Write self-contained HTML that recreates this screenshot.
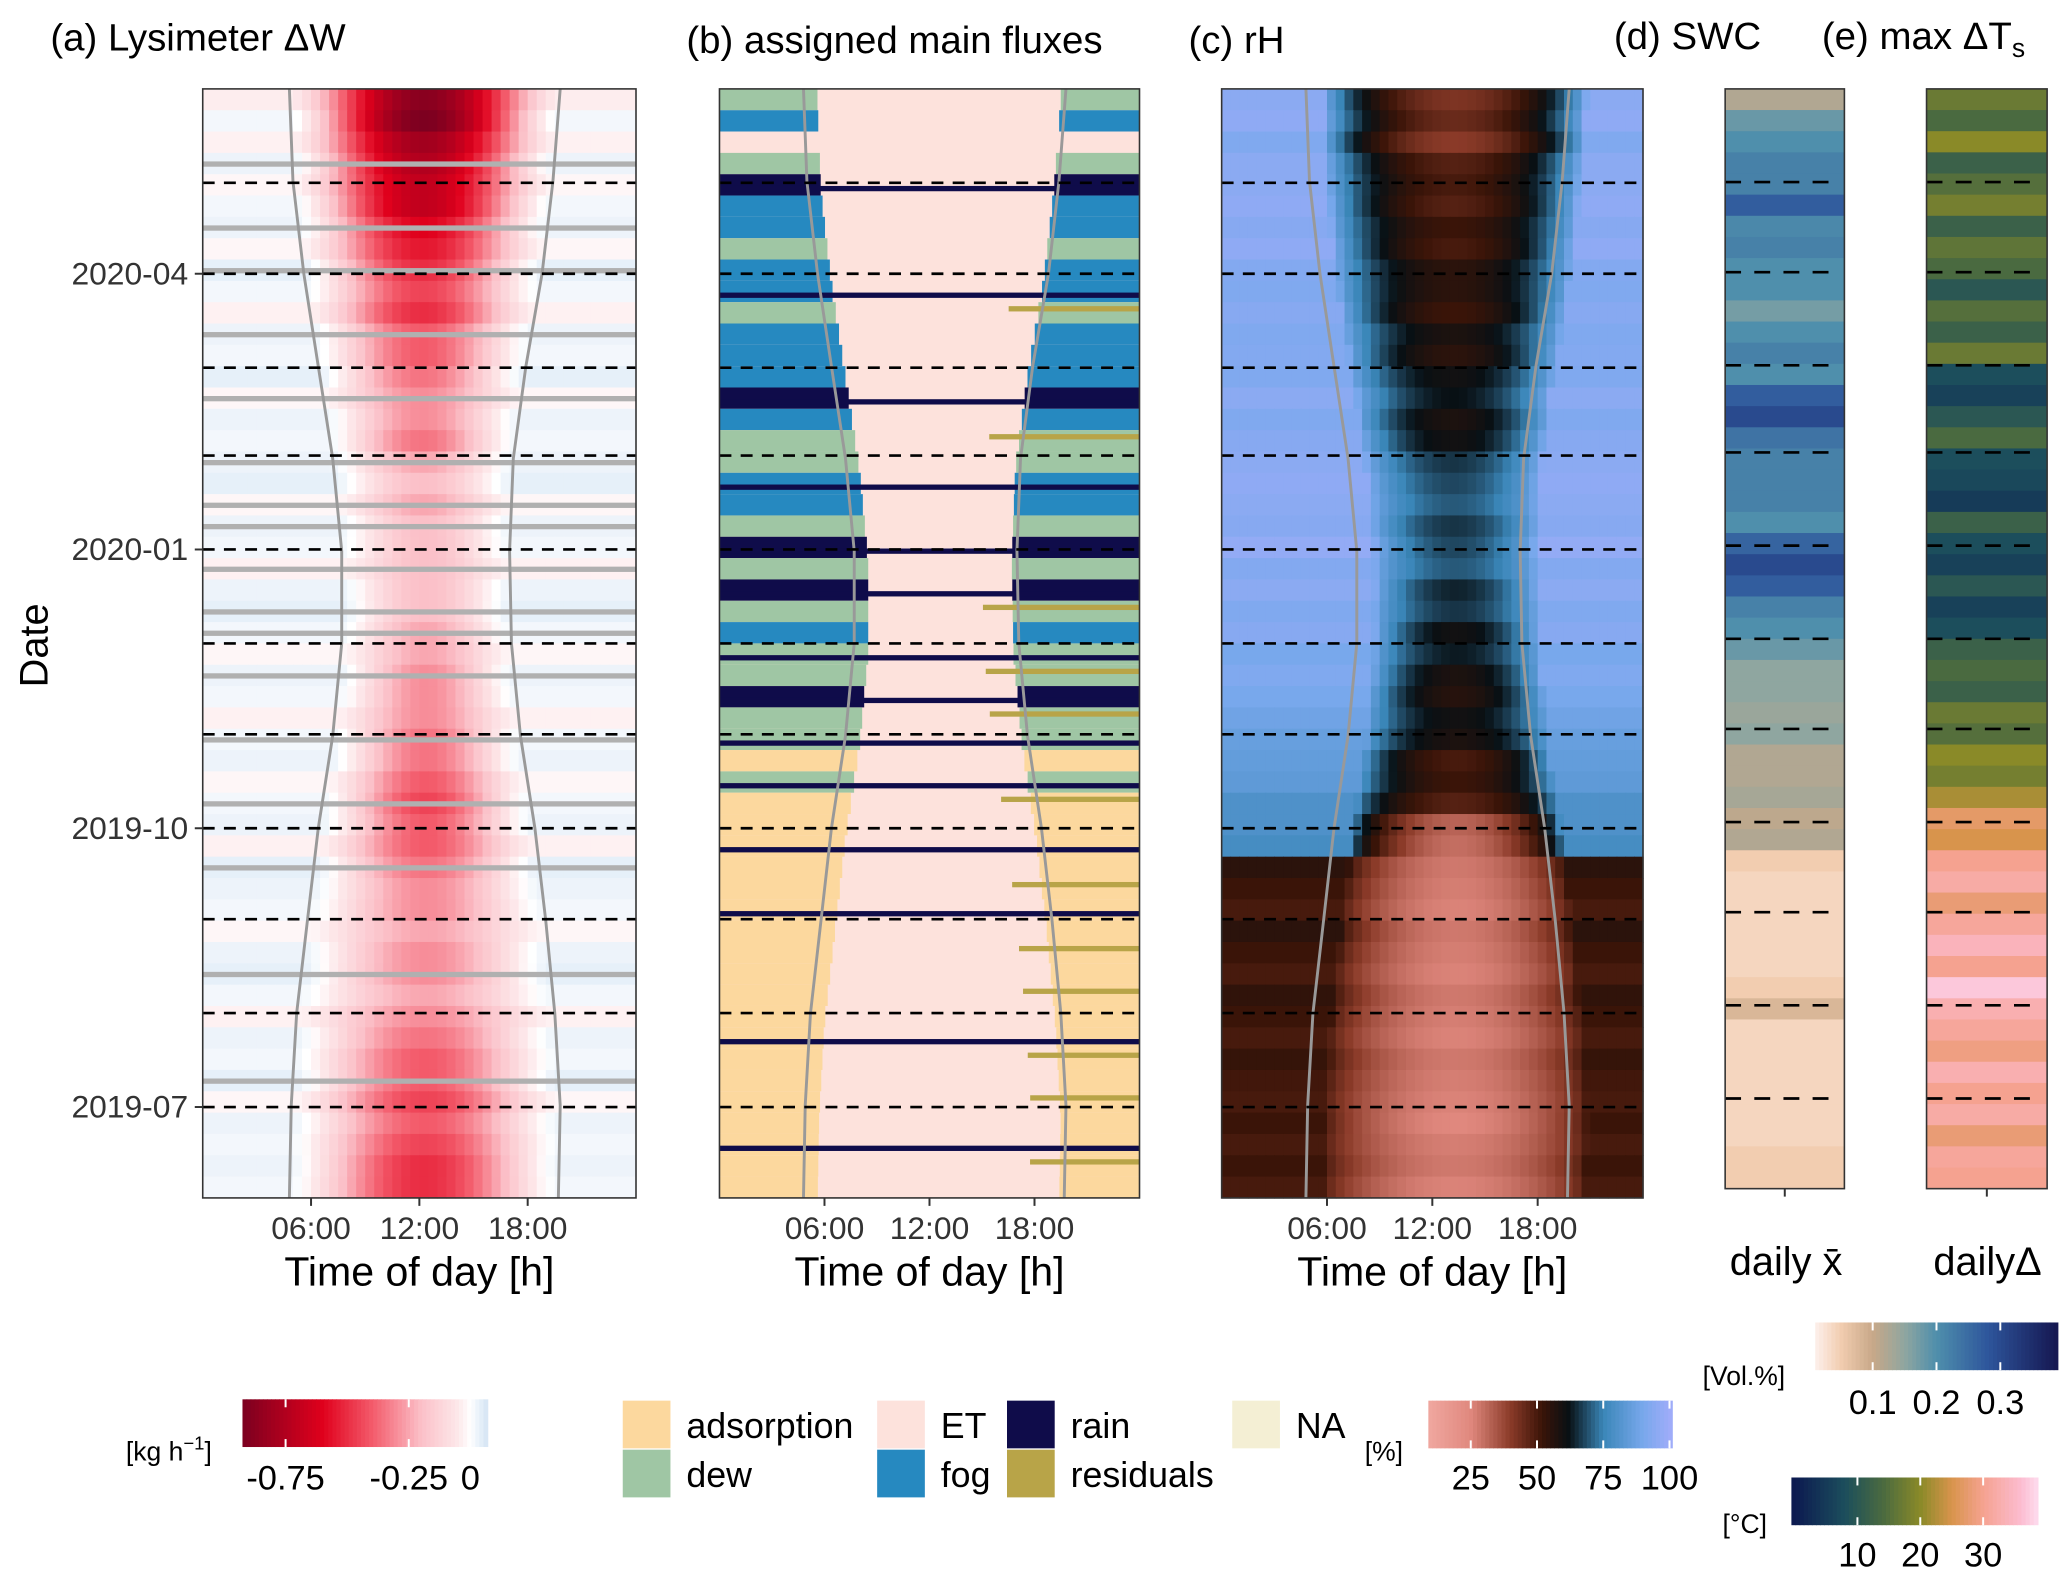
<!DOCTYPE html>
<html><head><meta charset="utf-8"><style>
html,body{margin:0;padding:0;background:#fff;}
svg{display:block;font-family:"Liberation Sans",sans-serif;}
</style></head><body>
<svg id="fig" width="2067" height="1577" viewBox="0 0 1560 1190" xmlns="http://www.w3.org/2000/svg">
<g id="layer"></g>
<text x="38" y="38" font-size="29">(a) Lysimeter ΔW</text>
<text x="518" y="40" font-size="29">(b) assigned main fluxes</text>
<text x="897" y="40" font-size="29">(c) rH</text>
<text x="1218" y="37" font-size="29">(d) SWC</text>
<text x="1375" y="37" font-size="29">(e) max ΔT<tspan font-size="20" dy="6">s</tspan></text>
<text transform="translate(36,487) rotate(-90)" text-anchor="middle" font-size="30">Date</text>
<text x="1348" y="962" text-anchor="middle" font-size="30">daily x̄</text>
<text x="1500" y="962" text-anchor="middle" font-size="30">dailyΔ</text>
</svg>
<script>
// ---- data (rows top = late May 2020 -> bottom = June 2019, weekly) ----
const monthTicks = ["2020-05-01","2020-04-01","2020-03-01","2020-02-01","2020-01-01","2019-12-01","2019-11-01","2019-10-01","2019-09-01","2019-08-01","2019-07-01"];
const dateTickLabels = ["2020-04","2020-01","2019-10","2019-07"];
const timeTickLabels = ["06:00","12:00","18:00"];
const timeTicks = [6,12,18];
const sunriseMonthly = [4.8,5.0,5.6,6.4,7.2,7.7,7.7,7.2,6.4,5.8,5.2,4.9,4.8];
const sunsetMonthly  = [19.8,19.4,18.8,17.9,17.2,17.0,17.1,17.6,18.4,19.0,19.5,19.8,19.7];
const lysPeak = [0.88,0.92,0.8,0.75,0.7,0.7,0.6,0.55,0.5,0.45,0.5,0.4,0.4,0.35,0.3,0.3,0.35,0.25,0.2,0.25,0.2,0.2,0.2,0.2,0.2,0.25,0.25,0.3,0.3,0.3,0.35,0.35,0.4,0.45,0.4,0.4,0.35,0.3,0.3,0.25,0.3,0.3,0.25,0.3,0.35,0.4,0.4,0.45,0.4,0.45,0.5,0.5];
const lysNight = [-0.04,0.02,-0.03,0.03,-0.02,0.02,0.03,-0.02,0.04,0.02,-0.03,0.03,0.02,0.04,-0.02,0.03,0.02,0.03,0.04,-0.02,0.03,0.02,-0.03,0.03,0.04,0.02,-0.02,0.03,0.02,-0.03,0.02,0.03,-0.02,0.02,0.03,-0.03,0.04,0.03,0.02,-0.02,0.03,0.04,0.02,-0.03,0.03,0.02,0.04,-0.02,0.03,0.02,0.03,0.02];
const lysNaRows = [3,6,8,11,14,17,19,20,22,24,25,27,30,33,36,41,46];
const fluxNight = ["dew","fog","ET","dew","rain","fog","fog","dew","fog","fog","dew","fog","fog","fog","rain","fog","dew","dew","fog","fog","dew","rain","dew","rain","dew","fog","dew","dew","rain","dew","dew","adsorption","dew","adsorption","adsorption","adsorption","adsorption","adsorption","adsorption","adsorption","adsorption","adsorption","adsorption","adsorption","adsorption","adsorption","adsorption","adsorption","adsorption","adsorption","adsorption","adsorption"];
const fluxRainRows = [4,9,14,18,21,23,26,28,30,32,35,38,44,49];
const fluxResidualRows = [10,16,24,27,29,33,37,40,42,45,47,50];
const rhDay = [42,45,40,48,50,48,52,50,55,55,52,58,55,60,62,58,60,66,68,70,66,68,70,64,66,60,63,58,56,60,58,50,52,48,32,30,28,27,26,28,27,26,28,27,26,28,27,26,25,27,28,26];
const rhNight = [95,96,92,95,95,96,94,96,93,92,94,92,93,92,95,92,94,95,96,95,94,97,93,95,92,94,90,92,90,88,86,85,84,80,80,78,55,52,50,55,52,50,54,52,50,53,51,50,52,50,52,50];
const swc = [0.12,0.18,0.2,0.22,0.22,0.27,0.21,0.22,0.2,0.2,0.17,0.2,0.22,0.2,0.27,0.3,0.24,0.22,0.22,0.22,0.2,0.26,0.3,0.27,0.22,0.2,0.18,0.15,0.15,0.14,0.15,0.12,0.12,0.13,0.11,0.12,0.05,0.04,0.04,0.04,0.04,0.04,0.05,0.08,0.04,0.04,0.04,0.04,0.04,0.04,0.05,0.05];
const dTs = [17,14,20,12,15,18,12,16,14,10,15,12,17,8,6,10,14,8,7,5,12,8,6,10,6,8,12,14,12,17,15,20,18,22,27,25,30,32,28,31,34,30,37,33,31,29,33,30,32,28,31,30];
// ---- helpers ----
const NS="http://www.w3.org/2000/svg";
const layer=document.getElementById('layer');
function mk(tag,attrs,parent){const e=document.createElementNS(NS,tag);for(const k in attrs)e.setAttribute(k,attrs[k]);(parent||layer).appendChild(e);return e;}
function hex(c){return [parseInt(c.slice(1,3),16),parseInt(c.slice(3,5),16),parseInt(c.slice(5,7),16)];}
function ramp(stops){return v=>{if(v<=stops[0][0])return stops[0][1];for(let i=1;i<stops.length;i++){if(v<=stops[i][0]){const t=(v-stops[i-1][0])/(stops[i][0]-stops[i-1][0]);const a=hex(stops[i-1][1]),b=hex(stops[i][1]);return 'rgb('+a.map((x,j)=>Math.round(x+(b[j]-x)*t)).join(',')+')';}}return stops[stops.length-1][1];};}
const colA=ramp([[-0.93,'#7a0020'],[-0.6,'#e0001c'],[-0.4,'#f35a6a'],[-0.2,'#fbc0c8'],[-0.05,'#fde8ea'],[0,'#ffffff'],[0.07,'#d4e4f4']]);
const colC=ramp([[9,'#f0a8a0'],[25,'#e0887e'],[40,'#8a3a28'],[52,'#3a1408'],[62,'#081014'],[75,'#3a86b8'],[90,'#78a8ec'],[101,'#a2acfa']]);
const colD=ramp([[0.01,'#fdf0ec'],[0.05,'#f2cdb0'],[0.1,'#c8a888'],[0.15,'#8fa6a0'],[0.2,'#4f8fac'],[0.28,'#2e569c'],[0.39,'#151650']]);
const colE=ramp([[0,'#0c1a50'],[8,'#1c4e5c'],[14,'#4a6a40'],[20,'#8a8a28'],[25,'#d8944c'],[30,'#f5a290'],[36,'#fcbcd0'],[39,'#fde0f2']]);
const fluxCol={adsorption:'#fcd89e',dew:'#9fc6a4',ET:'#fde2dc',fog:'#2689c0',rain:'#0f0c4a',residuals:'#b8a448',NA:'#f4efd4'};
const T0=Date.UTC(2019,5,1), T1=Date.UTC(2020,5,1);
const Y0=67,Y1=904;
function yDate(s){const d=Date.parse(s);return Y0+(T1-d)/(T1-T0)*(Y1-Y0);}
const nRows=lysPeak.length, rowH=(Y1-Y0)/nRows;
function sunAt(arr,r){const m=r/nRows*12;const i=Math.floor(m),f=m-i;return arr[i]+(arr[Math.min(i+1,12)]-arr[i])*f;}
const panels={a:[153,480],b:[543,860],c:[922,1240]};
function xT(p,h){const [x0,x1]=panels[p];return x0+h/24*(x1-x0);}
// ---- panel a ----
let g=mk('g',{});


for(let r=0;r<nRows;r++){const sr=sunAt(sunriseMonthly,r),ss=sunAt(sunsetMonthly,r);
 for(let c=0;c<48;c++){const h=c/2+0.25;let v=lysNight[r];
  if(h>sr&&h<ss){const s=Math.sin(Math.PI*(h-sr)/(ss-sr));v=-lysPeak[r]*Math.pow(s,1.6)+lysNight[r]*(1-s);}
  const e=mk('rect',{x:xT('a',c/2),y:Y0+r*rowH,width:(panels.a[1]-panels.a[0])/48+0.5,height:rowH+0.5,fill:colA(v)},g);
  
  }}
lysNaRows.forEach(r=>{const e=mk('rect',{x:153,y:Y0+r*rowH+rowH*0.4,width:327,height:4,fill:'#b0b0b0'},g);
 
 });
// ---- panel b ----
g=mk('g',{});


for(let r=0;r<nRows;r++){const sr=sunAt(sunriseMonthly,r),ss=sunAt(sunsetMonthly,r);
 const y=Y0+r*rowH;
 const e1=mk('rect',{x:543,y:y,width:317,height:rowH+0.5,fill:fluxCol.ET},g);
 
 
 const cat=fluxNight[r];
 const e2=mk('rect',{x:543,y:y,width:xT('b',sr+0.8)-543,height:rowH+0.5,fill:fluxCol[cat]},g);
 
 
 const e3=mk('rect',{x:xT('b',ss-0.3),y:y,width:860-xT('b',ss-0.3),height:rowH+0.5,fill:fluxCol[cat]},g);
 
 }
fluxResidualRows.forEach(r=>{const ss=sunAt(sunsetMonthly,r);const e=mk('rect',{x:xT('b',ss-2),y:Y0+r*rowH+3,width:xT('b',24)-xT('b',ss-2),height:4,fill:fluxCol.residuals},g);
 
 });
fluxRainRows.forEach(r=>{const e=mk('rect',{x:543,y:Y0+r*rowH+rowH*0.55,width:317,height:4,fill:fluxCol.rain},g);
 
 });
// ---- panel c ----
g=mk('g',{});


for(let r=0;r<nRows;r++){const sr=sunAt(sunriseMonthly,r),ss=sunAt(sunsetMonthly,r);
 for(let c=0;c<48;c++){const h=c/2+0.25;let v=rhNight[r];
  const a=sr+1.0,b=ss+1.0;
  if(h>a&&h<b){const s=Math.sin(Math.PI*(h-a)/(b-a));const w=Math.pow(s,0.6);v=rhNight[r]+(rhDay[r]-rhNight[r])*w;}
  const e=mk('rect',{x:xT('c',c/2),y:Y0+r*rowH,width:(panels.c[1]-panels.c[0])/48+0.5,height:rowH+0.5,fill:colC(v)},g);
  
  }}
// ---- panels d,e ----
const DY0=67,DY1=897,dRowH=(DY1-DY0)/nRows;
for(let r=0;r<nRows;r++){
 const e=mk('rect',{x:1302,y:DY0+r*dRowH,width:90,height:dRowH+0.5,fill:colD(swc[r])});
 
 
 const f=mk('rect',{x:1454,y:DY0+r*dRowH,width:91,height:dRowH+0.5,fill:colE(dTs[r])});
 
 }
// ---- sun curves, dashed month lines, frames, axes ----
['a','b','c'].forEach(p=>{
 ['sunrise','sunset'].forEach(k=>{const arr=k==='sunrise'?sunriseMonthly:sunsetMonthly;let d='';
  for(let i=0;i<=12;i++){d+=(i?'L':'M')+xT(p,arr[i]).toFixed(1)+','+(Y0+i/12*(Y1-Y0)).toFixed(1);}
  const e=mk('path',{d:d,fill:'none',stroke:'#999',"stroke-width":2.2});
  
  });
 monthTicks.forEach(m=>{const y=yDate(m);const e=mk('line',{x1:panels[p][0],x2:panels[p][1],y1:y,y2:y,stroke:'#000',"stroke-width":2,"stroke-dasharray":"9,7"});
  
  });
 const fr=mk('rect',{x:panels[p][0],y:Y0,width:panels[p][1]-panels[p][0],height:Y1-Y0,fill:'none',stroke:'#333',"stroke-width":1.2});
 
 
 timeTicks.forEach((t,i)=>{const x=xT(p,t);const l=mk('line',{x1:x,x2:x,y1:Y1,y2:Y1+6,stroke:'#333',"stroke-width":1.5});
  
  
  const tx=mk('text',{x:x,y:935,"text-anchor":"middle","font-size":24,fill:'#333'});tx.textContent=timeTickLabels[i];
  
  });
 const tt=mk('text',{x:(panels[p][0]+panels[p][1])/2,y:970,"text-anchor":"middle","font-size":31});tt.textContent='Time of day [h]';
 
 });
[[1302,1392],[1454,1545]].forEach(([x0,x1],k)=>{
 monthTicks.forEach(m=>{const y=DY0+(yDate(m)-Y0)*(DY1-DY0)/(Y1-Y0);const e=mk('line',{x1:x0,x2:x1-10,y1:y,y2:y,stroke:'#000',"stroke-width":2,"stroke-dasharray":"12,10"});
  
  });
 const fr=mk('rect',{x:x0,y:DY0,width:x1-x0,height:DY1-DY0,fill:'none',stroke:'#333',"stroke-width":1.2});
 
 
 const l=mk('line',{x1:(x0+x1)/2,x2:(x0+x1)/2,y1:DY1,y2:DY1+6,stroke:'#333',"stroke-width":1.5});
 
 });
dateTickLabels.forEach(s=>{const y=yDate(s+'-01');
 const l=mk('line',{x1:147,x2:153,y1:y,y2:y,stroke:'#333',"stroke-width":1.5});
 
 
 const t=mk('text',{x:142,y:y+8,"text-anchor":"end","font-size":24,fill:'#333'});t.textContent=s;
 
 });
// ---- legends ----
function colorbar(name,x0,x1,y0,h,vmin,vmax,fn,ticks,labels,ly,fs){const gg=mk('g',{});
 
 
 const n=60;for(let i=0;i<n;i++){const v=vmin+(vmax-vmin)*(i+0.5)/n;mk('rect',{x:x0+(x1-x0)*i/n,y:y0,width:(x1-x0)/n+0.5,height:h,fill:fn(v)},gg);}
 ticks.forEach((t,i)=>{const x=x0+(t-vmin)/(vmax-vmin)*(x1-x0);
  mk('line',{x1:x,x2:x,y1:y0,y2:y0+6,stroke:'#fff',"stroke-width":1.5},gg);
  mk('line',{x1:x,x2:x,y1:y0+h-6,y2:y0+h,stroke:'#fff',"stroke-width":1.5},gg);
  const t2=mk('text',{x:x,y:ly,"text-anchor":"middle","font-size":fs},gg);t2.textContent=labels[i];
  
  });}
colorbar('colorbar-a',183,368,1056,36,-0.925,0.07,colA,[-0.75,-0.25,0],['-0.75','-0.25','0'],1124,26);
colorbar('colorbar-c',1078,1262,1057,36,9,101,colC,[25,50,75,100],['25','50','75','100'],1124,26);
colorbar('colorbar-d',1370,1553,998,36,0.01,0.39,colD,[0.1,0.2,0.3],['0.1','0.2','0.3'],1067,26);
colorbar('colorbar-e',1352,1538,1115,36,-0.5,38.7,colE,[10,20,30],['10','20','30'],1182,26);
[['[kg h',95,1102],['[%]',1030,1102],['[Vol.%]',1285,1045],['[°C]',1300,1157]].forEach(([s,x,y],i)=>{
 const t=mk('text',{x:x,y:y,"font-size":20});t.textContent=s;
 if(i===0){const sp=mk('tspan',{"font-size":14,dy:-8},t);sp.textContent='−1';const sp2=mk('tspan',{dy:8},t);sp2.textContent=']';}
 
 });
const legItems=[['adsorption',470,1057],['dew',470,1094],['ET',662,1057],['fog',662,1094],['rain',760,1057],['residuals',760,1094],['NA',930,1057]];
legItems.forEach(([k,x,y])=>{const r=mk('rect',{x:x,y:y,width:36,height:36,fill:fluxCol[k]});
 
 
 const t=mk('text',{x:x+48,y:y+28,"font-size":27});t.textContent=k;
 
 });
</script>
</body></html>
